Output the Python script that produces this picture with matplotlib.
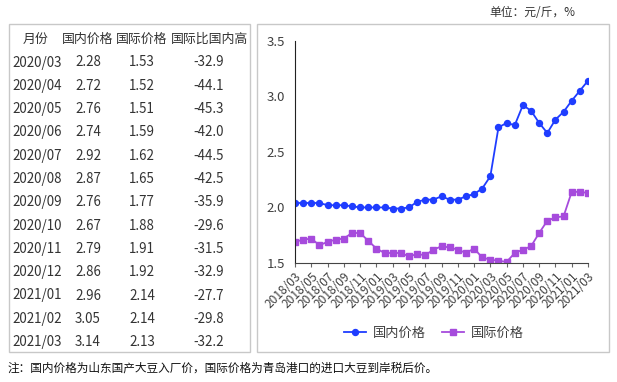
import matplotlib
matplotlib.use("Agg")
import matplotlib.pyplot as plt
from matplotlib.patches import Rectangle

plt.rcParams['font.family'] = ['Noto Sans CJK SC', 'DejaVu Sans']

# ---- data ----
months = []
for y in (2018, 2019, 2020, 2021):
    for m in range(1, 13):
        if (y == 2018 and m < 3) or (y == 2021 and m > 3):
            continue
        months.append(f"{y}/{m:02d}")

domestic = [2.04, 2.04, 2.04, 2.04, 2.02, 2.02, 2.02, 2.01, 2.00, 2.00,
            2.00, 2.00, 1.99, 1.99, 2.00, 2.05, 2.07, 2.07, 2.10, 2.07,
            2.07, 2.10, 2.12, 2.17, 2.28, 2.72, 2.76, 2.74, 2.92, 2.87,
            2.76, 2.67, 2.79, 2.86, 2.96, 3.05, 3.14]
international = [1.69, 1.71, 1.72, 1.66, 1.69, 1.71, 1.72, 1.77, 1.77, 1.70,
                 1.63, 1.59, 1.59, 1.59, 1.56, 1.58, 1.57, 1.62, 1.65, 1.64,
                 1.62, 1.59, 1.63, 1.55, 1.53, 1.52, 1.51, 1.59, 1.62, 1.65,
                 1.77, 1.88, 1.91, 1.92, 2.14, 2.14, 2.13]

table_header = ["月份", "国内价格", "国际价格", "国际比国内高"]
table_months = ["2020/03", "2020/04", "2020/05", "2020/06", "2020/07", "2020/08",
                "2020/09", "2020/10", "2020/11", "2020/12", "2021/01", "2021/02", "2021/03"]
table_dom = ["2.28", "2.72", "2.76", "2.74", "2.92", "2.87", "2.76", "2.67",
             "2.79", "2.86", "2.96", "3.05", "3.14"]
table_intl = ["1.53", "1.52", "1.51", "1.59", "1.62", "1.65", "1.77", "1.88",
              "1.91", "1.92", "2.14", "2.14", "2.13"]
table_ratio = ["-32.9", "-44.1", "-45.3", "-42.0", "-44.5", "-42.5", "-35.9",
               "-29.6", "-31.5", "-32.9", "-27.7", "-29.8", "-32.2"]

unit_text = "单位：元/斤，%"
note_text = "注：国内价格为山东国产大豆入厂价，国际价格为青岛港口的进口大豆到岸税后价。"
legend_labels = ["国内价格", "国际价格"]

# ---- figure ----
W, H = 617, 382
fig = plt.figure(figsize=(W / 100, H / 100), dpi=100)
fig.patch.set_facecolor('white')

def fx(px):
    return px / W

def fy(py):
    return 1 - py / H

# boxes
for (x0, y0, x1, y1) in [(9, 24, 250, 352), (257, 24, 609, 352)]:
    fig.patches.append(Rectangle((fx(x0), fy(y1)), fx(x1) - fx(x0), (y1 - y0) / H,
                                 transform=fig.transFigure, fill=False,
                                 edgecolor='#c8c8c8', linewidth=1.0))

# table
tcol = '#333333'
col_x = [36, 88, 142, 209]
for i in range(4):
    fig.text(fx(col_x[i]), fy(39.5), table_header[i], ha='center', va='center', fontsize=9.3, color=tcol)
row_y0, row_dy = 62.5, 23.3
for r in range(len(table_months)):
    yy = fy(row_y0 + r * row_dy)
    fig.text(fx(12), yy, table_months[r], ha='left', va='center', fontsize=9.6, color=tcol)
    fig.text(fx(col_x[1]), yy, table_dom[r], ha='center', va='center', fontsize=9.6, color=tcol)
    fig.text(fx(col_x[2]), yy, table_intl[r], ha='center', va='center', fontsize=9.6, color=tcol)
    fig.text(fx(col_x[3]), yy, table_ratio[r], ha='center', va='center', fontsize=9.6, color=tcol)

fig.text(fx(575), fy(12.5), unit_text, ha='right', va='center', fontsize=8.5, color='#333333')
fig.text(fx(8), fy(368), note_text, ha='left', va='center', fontsize=8.4, color='#111111')

# chart
ax_l, ax_r, ax_t, ax_b = 295, 588, 40.7, 263
ax = fig.add_axes([fx(ax_l), fy(ax_b), (ax_r - ax_l) / W, (ax_b - ax_t) / H])
ax.set_facecolor('white')
x = list(range(len(months)))
blue = '#1f3dff'
purple = '#a64bdc'
ax.plot(x, domestic, color=blue, marker='o', markersize=4.3, linewidth=1.3, label=legend_labels[0])
ax.plot(x, international, color=purple, marker='s', markersize=4.3, linewidth=1.3, label=legend_labels[1])
ax.set_xlim(0, len(months) - 1)
ax.set_ylim(1.5, 3.5)
yt = [1.5, 2.0, 2.5, 3.0, 3.5]
ax.set_yticks(yt)
ax.set_yticklabels([f"{v:.1f}" for v in yt])
ax.set_xticks(x[::2])
ax.set_xticklabels(months[::2], rotation=45, ha='right', rotation_mode='anchor')
for s in ('top', 'right'):
    ax.spines[s].set_visible(False)
ax.spines['left'].set_color('#222222')
ax.spines['bottom'].set_color('#444444')
ax.tick_params(axis='y', length=0, pad=7, labelsize=9.5, labelcolor='#404040')
ax.tick_params(axis='x', length=3, width=0.8, color='#666666', pad=2, labelsize=8.6, labelcolor='#404040')
ax.margins(x=0)

fig.legend(loc='center', bbox_to_anchor=(fx(434), fy(333)), ncol=2, frameon=False,
           fontsize=9.5, handlelength=1.7, columnspacing=1.2, handletextpad=0.5,
           labelcolor='#404040')

fig.savefig('out.png', dpi=100, facecolor='white')
